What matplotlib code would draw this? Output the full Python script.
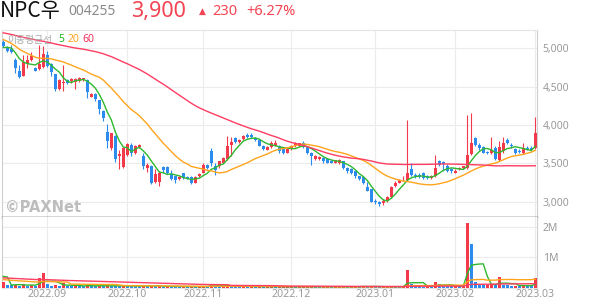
import matplotlib.pyplot as plt
import numpy as np
import pandas as pd

# ---- data ----
# closes before the visible window, only used to seed the moving averages
pre_close = [5550, 5600, 5520, 5480, 5530, 5450, 5500, 5420, 5460, 5400, 5380, 5350,
             5300, 5250, 5280, 5200, 5150, 5180, 5100, 5050, 5080, 5000, 4980, 5020,
             4960, 4990, 4950,
             4980, 5050, 5120, 5080, 5150, 5200, 5180, 5250, 5300, 5280, 5350, 5400, 5380,
             5450, 5500, 5420, 5460, 5400, 5380, 5400,
             5200, 5050, 4900, 4850, 4800, 4780, 4820, 4850,
             4950, 5000, 5050, 5020]
pre_volume = [520, 480, 610, 430, 390, 450, 700, 380, 420, 360, 500, 410, 390, 470, 340, 350,
              280, 310, 260, 350, 290, 240, 330, 300, 270, 420, 310, 260, 280, 300, 250, 330,
              360, 290, 270, 310, 280, 240, 300, 350, 320, 260, 290, 310, 270, 250, 300, 280,
              260, 240,
              180, 150, 170, 140, 160, 200, 1400, 60, 50]

opens = [5080, 5010, 4990, 4850, 4710, 4645, 4795, 4855, 4740, 4730,
         4760, 4915, 4795, 4660, 4470, 4545, 4590, 4570, 4560, 4575,
         4595, 4590, 4370, 4400, 4325, 4185, 3915, 3700, 3860, 3600,
         3450, 3610, 3740, 3630, 3710, 3600, 3440, 3470, 3260, 3260,
         3450, 3450, 3365, 3335, 3295, 3370, 3320, 3320, 3250, 3330,
         3380, 3480, 3665, 3460, 3460, 3510, 3555, 3740, 3830, 3785,
         3815, 3875, 3870, 3830, 3800, 3725, 3675, 3710, 3730, 3730,
         3685, 3640, 3685, 3725, 3730, 3770, 3710, 3635, 3555, 3555,
         3565, 3555, 3530, 3510, 3500, 3525, 3440, 3425, 3395, 3330,
         3320, 3190, 3165, 3015, 3000, 2985, 3015, 3065, 3205, 3250,
         3290, 3285, 3425, 3350, 3345, 3370, 3335, 3305, 3330, 3525,
         3520, 3465, 3425, 3380, 3420, 3440, 3440, 3625, 3830, 3740,
         3710, 3645, 3630, 3700, 3545, 3655, 3805, 3740, 3685, 3660,
         3635, 3700, 3700, 3700]
highs = [5110, 5030, 5040, 4870, 4785, 4915, 4915, 4950, 4760, 5045,
         5035, 4960, 4810, 4670, 4600, 4780, 4600, 4620, 4610, 4630,
         4620, 4600, 4420, 4415, 4330, 4190, 4010, 3900, 3870, 3680,
         3710, 3770, 3770, 3740, 3750, 3640, 3500, 3480, 3430, 3400,
         3460, 3460, 3410, 3340, 3330, 3380, 3330, 3330, 3330, 3370,
         3500, 3490, 3700, 3500, 3530, 3580, 3860, 3845, 3850, 3820,
         3870, 3900, 3890, 3840, 3810, 3740, 3720, 3790, 3800, 3740,
         3700, 3700, 3740, 3780, 3770, 3790, 3720, 3650, 3610, 3600,
         3580, 3560, 3545, 3550, 3555, 3530, 3450, 3440, 3400, 3340,
         3330, 3260, 3170, 3030, 3010, 3030, 3080, 3200, 3270, 3300,
         3330, 4070, 3500, 3380, 3370, 3390, 3350, 3350, 3610, 3550,
         3530, 3490, 3440, 3420, 3450, 3470, 4130, 4155, 3850, 3760,
         3720, 3660, 3850, 3720, 3790, 3850, 3830, 3760, 3700, 3690,
         3760, 3720, 3730, 4100]
lows = [5020, 4950, 4940, 4675, 4620, 4640, 4740, 4840, 4700, 4720,
        4750, 4760, 4640, 4450, 4460, 4450, 4530, 4550, 4470, 4560,
        4580, 4350, 4360, 4320, 4150, 4055, 3705, 3670, 3520, 3430,
        3440, 3600, 3600, 3620, 3700, 3420, 3390, 3230, 3250, 3200,
        3370, 3360, 3280, 3240, 3280, 3300, 3290, 3230, 3240, 3320,
        3370, 3430, 3460, 3350, 3440, 3500, 3540, 3600, 3770, 3770,
        3800, 3830, 3830, 3790, 3720, 3680, 3670, 3700, 3720, 3640,
        3620, 3630, 3670, 3710, 3720, 3700, 3620, 3480, 3540, 3540,
        3510, 3500, 3500, 3500, 3490, 3430, 3380, 3360, 3310, 3280,
        3230, 3140, 2990, 2975, 2940, 2960, 3000, 3050, 3190, 3240,
        3270, 3270, 3340, 3310, 3310, 3300, 3290, 3290, 3320, 3470,
        3400, 3390, 3380, 3370, 3410, 3420, 3430, 3610, 3720, 3680,
        3630, 3620, 3620, 3540, 3530, 3640, 3750, 3700, 3620, 3630,
        3620, 3680, 3660, 3690]
closes = [5035, 4965, 4950, 4750, 4630, 4825, 4850, 4905, 4710, 4795,
          4925, 4775, 4690, 4470, 4590, 4560, 4545, 4605, 4595, 4620,
          4610, 4435, 4405, 4340, 4210, 4095, 3795, 3895, 3555, 3620,
          3700, 3755, 3630, 3725, 3740, 3460, 3480, 3250, 3360, 3380,
          3415, 3370, 3295, 3285, 3320, 3305, 3300, 3245, 3320, 3360,
          3480, 3445, 3510, 3415, 3525, 3565, 3725, 3785, 3785, 3805,
          3855, 3840, 3845, 3810, 3730, 3685, 3710, 3770, 3760, 3655,
          3635, 3685, 3725, 3760, 3760, 3710, 3635, 3600, 3595, 3580,
          3525, 3510, 3510, 3540, 3545, 3440, 3395, 3370, 3330, 3295,
          3245, 3145, 3000, 2990, 2970, 3015, 3065, 3190, 3250, 3285,
          3300, 3370, 3350, 3330, 3320, 3305, 3305, 3335, 3435, 3480,
          3490, 3405, 3395, 3405, 3435, 3460, 3610, 3760, 3740, 3700,
          3640, 3630, 3675, 3555, 3710, 3760, 3765, 3720, 3635, 3650,
          3700, 3690, 3670, 3900]
volume = [185, 110, 90, 95, 70, 140, 80, 95, 70, 330,
          480, 130, 80, 90, 75, 150, 70, 65, 75, 60,
          55, 120, 65, 55, 70, 60, 90, 75, 65, 60,
          80, 70, 60, 55, 50, 110, 60, 70, 55, 60,
          50, 55, 50, 45, 40, 50, 45, 50, 40, 45,
          50, 45, 140, 60, 55, 70, 90, 70, 55, 50,
          50, 45, 45, 40, 45, 40, 40, 45, 40, 40,
          40, 40, 45, 40, 40, 40, 45, 50, 45, 40,
          40, 40, 35, 40, 40, 45, 40, 40, 45, 40,
          75, 40, 50, 45, 40, 40, 45, 50, 45, 40,
          40, 600, 130, 55, 50, 45, 50, 45, 185, 140,
          70, 65, 60, 60, 55, 60, 2110, 1430, 185, 130,
          90, 90, 130, 100, 370, 100, 90, 70, 80, 70,
          90, 70, 60, 330]  # thousands of shares

month_idx = [11, 31, 50, 72, 93, 113, 133]
month_labels = ['2022.09', '2022.10', '2022.11', '2022.12', '2023.01', '2023.02', '2023.03']
ma_windows = [5, 20, 60]

RED = '#f23a4a'
BLUE = '#2b8cee'
MA_COLORS = ['#2eb82e', '#ffa41c', '#ff3c61']
GRID = '#ececec'

n = len(closes)
x = np.arange(n)
o = np.array(opens)
c = np.array(closes)
h = np.array(highs)
l = np.array(lows)
v = np.array(volume) * 1000
npre = len(pre_close)

plt.rcParams['font.family'] = ['Noto Sans CJK KR', 'DejaVu Sans']

fig = plt.figure(figsize=(5.94, 3.04), dpi=100)
W, H = 594, 304
ax = fig.add_axes([2 / W, 1 - 217 / H, 535 / W, 187 / H])
axv = fig.add_axes([2 / W, 1 - 288 / H, 535 / W, 71 / H], sharex=ax)

# candles
up = c >= o
col = np.where(up, RED, BLUE)
ax.vlines(x, l, h, colors=col, linewidth=0.8, zorder=3)
body_lo = np.minimum(o, c)
body_h = np.maximum(np.abs(c - o), 8)
ax.bar(x, body_h, bottom=body_lo, width=0.78, color=col, linewidth=0, zorder=4)

# moving averages of price and volume
all_close = pd.Series(pre_close + closes, dtype=float)
all_vol = pd.Series([p * 1000 for p in pre_volume] + list(v), dtype=float)
for w, mc in zip(ma_windows, MA_COLORS):
    ma = all_close.rolling(w).mean().iloc[npre:].to_numpy()
    ax.plot(x, ma, color=mc, linewidth=1.0, zorder=5)
    mav = all_vol.rolling(w).mean().iloc[npre:].to_numpy()
    axv.plot(x, mav, color=mc, linewidth=1.0, zorder=5)

# volume bars: red when volume rose vs previous day
prev_v = np.concatenate([[pre_volume[-1] * 1000], v[:-1]])
vcol = np.where(v >= prev_v, RED, BLUE)
axv.bar(x, v, width=0.78, color=vcol, linewidth=0, zorder=3)

ax.set_xlim(-0.33, 133.43)
ax.set_ylim(2800, 5240)
axv.set_ylim(0, 2.32e6)

ax.set_yticks([3000, 3500, 4000, 4500, 5000])
ax.set_yticklabels([f'{t:,}' for t in [3000, 3500, 4000, 4500, 5000]])
axv.set_yticks([1e6, 2e6])
axv.set_yticklabels(['1M', '2M'])
for a in (ax, axv):
    a.yaxis.tick_right()
    a.tick_params(axis='y', length=0, pad=4, labelcolor='#9a9a9a', labelsize=7.5)
    a.set_xticks(month_idx)
    a.grid(True, color=GRID, linewidth=0.8, zorder=0)
    a.set_axisbelow(True)
    for s in ('left', 'right'):
        a.spines[s].set_color('#cfcfcf')
        a.spines[s].set_linewidth(0.8)
ax.tick_params(axis='x', length=0, labelbottom=False)
axv.tick_params(axis='x', length=0, pad=1, labelcolor='#9a9a9a', labelsize=7.6)
axv.set_xticklabels(month_labels)
for lab in ax.get_yticklabels() + axv.get_yticklabels() + axv.get_xticklabels():
    lab.set_family(['Noto Sans', 'DejaVu Sans'])

ax.spines['top'].set_color('#e4e4e4')
ax.spines['bottom'].set_color('#333333')
ax.spines['bottom'].set_linewidth(1.0)
axv.spines['top'].set_visible(False)
axv.spines['bottom'].set_color('#e4e4e4')

# legend and watermark
ax.text(7 / W, 1 - 40 / H, '이동평균선', transform=fig.transFigure, fontsize=7,
        color='#a8a8a8', va='center', zorder=6)
for lbl, mc, px in zip(['5', '20', '60'], ['#22b822', '#ffa41c', '#f0305a'], [58, 67.5, 82.5]):
    ax.text(px / W, 1 - 40 / H, lbl, transform=fig.transFigure, fontsize=7.5,
            color=mc, va='center', family=['Noto Sans', 'DejaVu Sans'], zorder=6)
fig.text(5 / W, 1 - 207 / H, '©PAXNet', fontsize=10.5, fontweight='bold', color='#bdbdbd',
         va='center', family=['DejaVu Sans'])

# header
RED_T = '#f24452'
fig.text(0 / W, 1 - 11 / H, 'NPC우', fontsize=15, color='#111111', va='center')
fig.text(68 / W, 1 - 11.5 / H, '004255', fontsize=10, color='#8a8a8a', va='center',
         family=['Noto Sans', 'DejaVu Sans'])
fig.text(131 / W, 1 - 11 / H, '3,900', fontsize=15.5, color=RED_T, va='center',
         family=['Noto Sans', 'DejaVu Sans'])
fig.text(199 / W, 1 - 11.5 / H, '▲', fontsize=6.5, color=RED_T, va='center',
         family=['DejaVu Sans'])
fig.text(212 / W, 1 - 11.5 / H, '230', fontsize=10.5, color=RED_T, va='center',
         family=['Noto Sans', 'DejaVu Sans'])
fig.text(246 / W, 1 - 11.5 / H, '+6.27%', fontsize=10.5, color=RED_T, va='center',
         family=['Noto Sans', 'DejaVu Sans'])

fig.savefig('out.png', dpi=100)
